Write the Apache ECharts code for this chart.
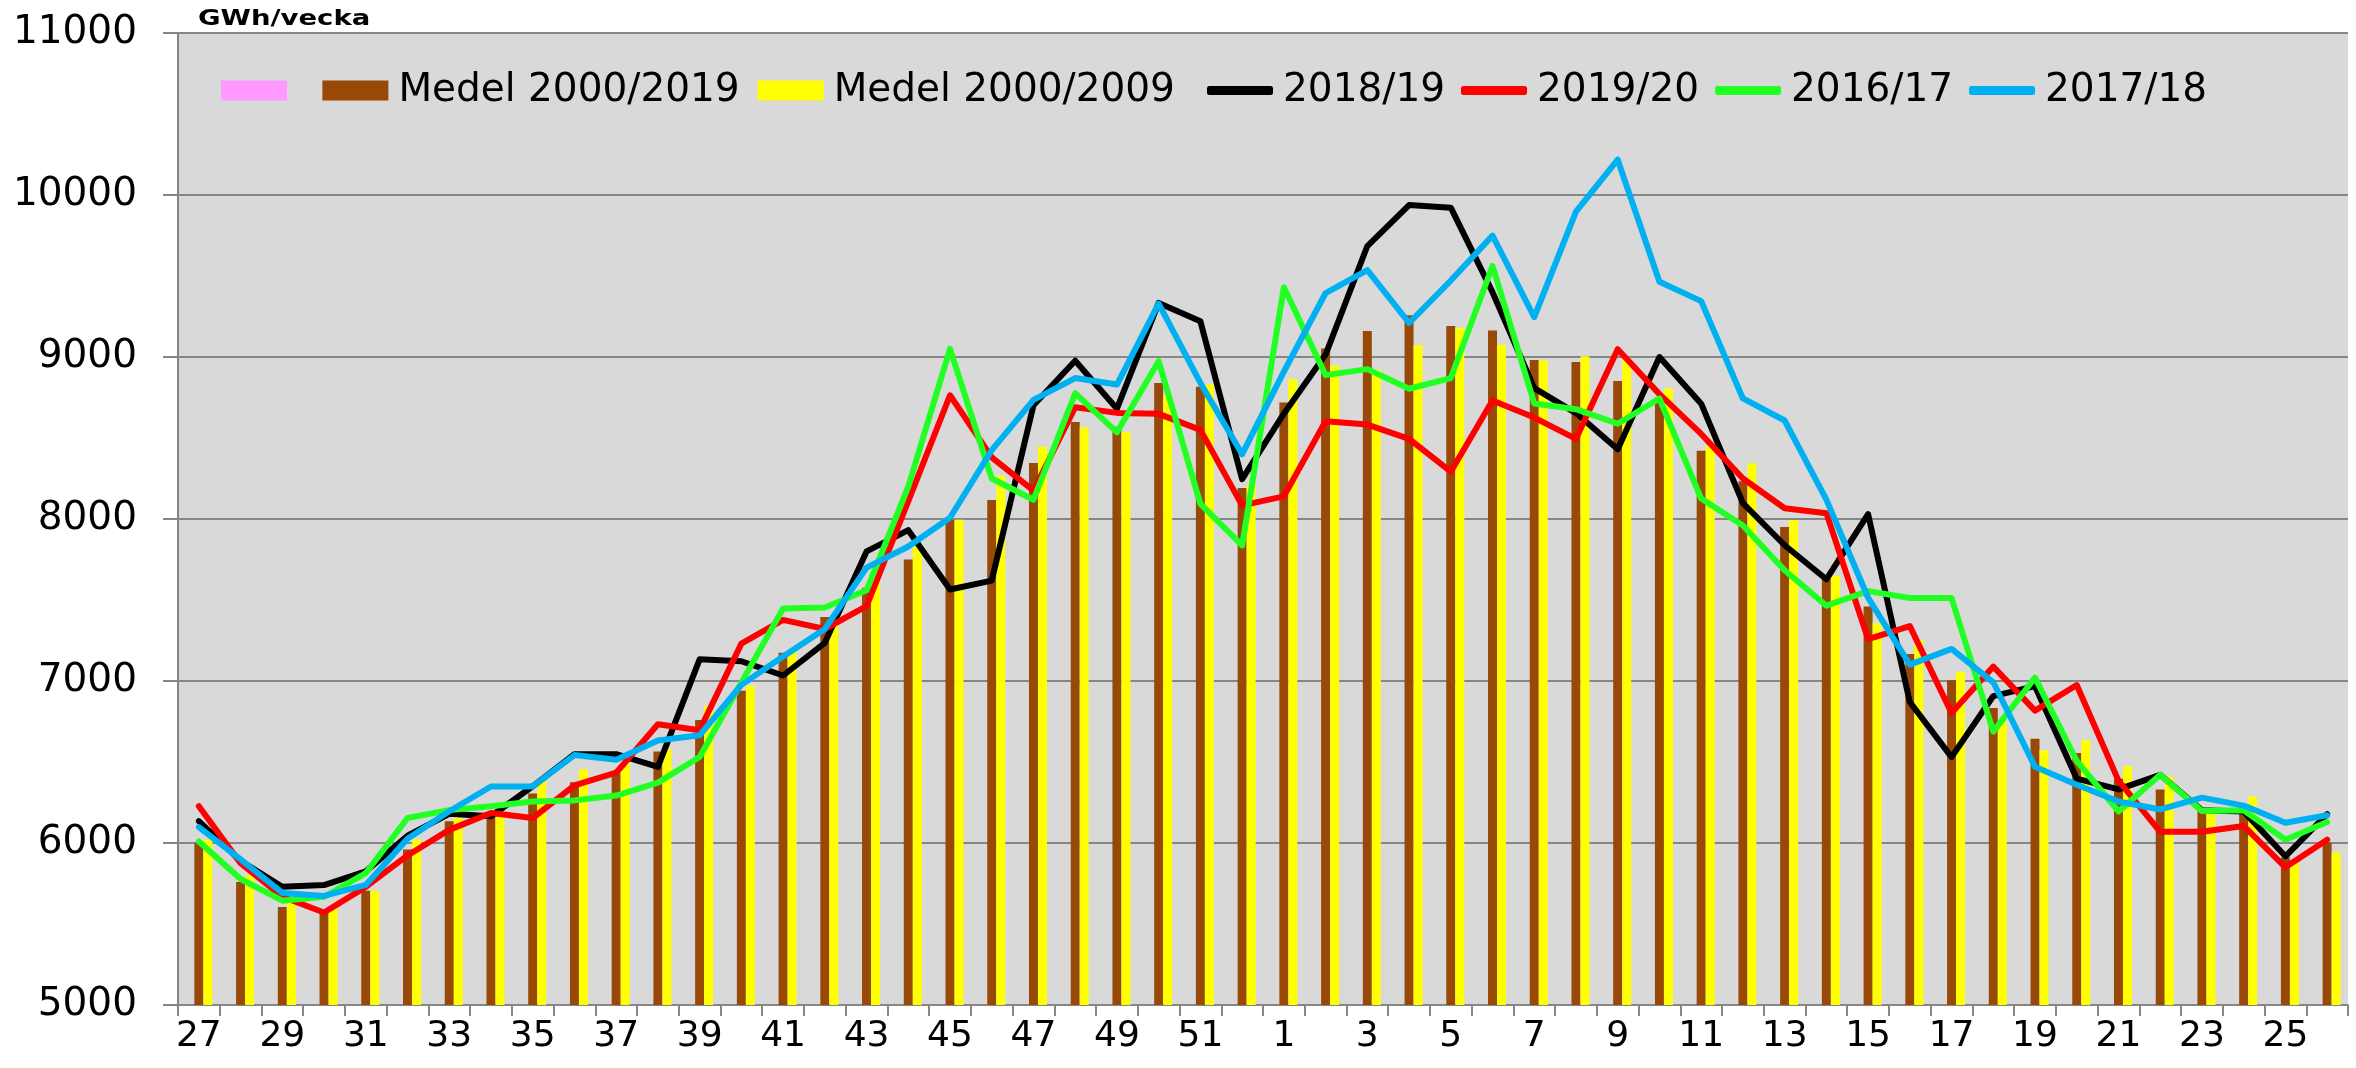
<!DOCTYPE html>
<html>
<head>
<meta charset="utf-8">
<script src="https://cdn.jsdelivr.net/npm/echarts@6/dist/echarts.min.js"></script>
<style>
  html, body { margin: 0; padding: 0; background: #fff; }
  #chart { width: 2356px; height: 1068px; }
</style>
</head>
<body>
<div id="chart"></div>
<script>
// veckor 27..52, 1..26
const weeks = [
  27, 28, 29, 30, 31, 32, 33, 34, 35, 36, 37, 38, 39, 40, 41, 42, 43, 44, 45, 46, 47, 48, 49, 50, 51, 52,
  1, 2, 3, 4, 5, 6, 7, 8, 9, 10, 11, 12, 13, 14, 15, 16, 17, 18, 19, 20, 21, 22, 23, 24, 25, 26
];

const medel2000_2019 = [
  6000, 5760, 5605, 5575, 5705, 5960, 6135, 6165, 6305, 6375, 6430, 6565, 6760, 6940, 7175, 7395, 7575, 7750, 7995, 8117, 8345, 8598, 8570, 8840, 8817, 8192,
  8719, 9052, 9160, 9258, 9192, 9163, 8981, 8969, 8852, 8750, 8421, 8233, 7950, 7635, 7460, 7167, 7004, 6834, 6644, 6555, 6397, 6331, 6195, 6202, 5911, 6003
];

const medel2000_2009 = [
  6020, 5800, 5630, 5595, 5705, 6020, 6155, 6190, 6385, 6455, 6495, 6580, 6845, 6970, 7185, 7355, 7625, 7828, 7996, 8268, 8446, 8567, 8535, 8761, 8831, 8210,
  8863, 8948, 8921, 9073, 9181, 9076, 8979, 9004, 8994, 8806, 8452, 8344, 7994, 7650, 7356, 7254, 7057, 6750, 6572, 6635, 6474, 6409, 6202, 6287, 5887, 5942
];

const y2018_19 = [
  6135, 5890, 5730, 5740, 5825, 6045, 6180, 6165, 6350, 6548, 6548, 6470, 7134, 7122, 7034, 7236, 7800, 7931, 7565, 7620, 8702, 8977, 8681, 9334, 9220, 8246,
  8650, 9015, 9685, 9938, 9922, 9400, 8808, 8654, 8431, 9000, 8712, 8098, 7838, 7628, 8030, 6870, 6530, 6907, 6968, 6397, 6331, 6421, 6202, 6195, 5918, 6178
];

const y2019_20 = [
  6227, 5875, 5668, 5571, 5729, 5923, 6081, 6185, 6154, 6356, 6434, 6733, 6696, 7231, 7377, 7321, 7462, 8110, 8764, 8380, 8175, 8690, 8655, 8649, 8550, 8084,
  8140, 8604, 8583, 8495, 8292, 8732, 8626, 8495, 9048, 8771, 8525, 8250, 8066, 8036, 7259, 7339, 6802, 7089, 6817, 6975, 6385, 6069, 6069, 6105, 5850, 6020
];

const y2016_17 = [
  6009, 5778, 5644, 5668, 5814, 6154, 6203, 6227, 6256, 6263, 6293, 6373, 6531, 6990, 7447, 7454, 7560, 8200, 9050, 8250, 8119, 8776, 8535, 8974, 8093, 7837,
  9431, 8888, 8925, 8804, 8870, 9562, 8713, 8678, 8588, 8744, 8126, 7960, 7684, 7465, 7555, 7512, 7512, 6688, 7021, 6506, 6195, 6421, 6197, 6202, 6020, 6129
];

const y2017_18 = [
  6098, 5899, 5692, 5673, 5741, 6026, 6196, 6349, 6349, 6543, 6514, 6633, 6665, 6976, 7151, 7321, 7700, 7830, 8008, 8425, 8735, 8870, 8830, 9329, 8840, 8400,
  8910, 9395, 9536, 9210, 9472, 9749, 9246, 9898, 10218, 9465, 9345, 8744, 8608, 8120, 7514, 7101, 7198, 6992, 6470, 6360, 6256, 6207, 6280, 6231, 6125, 6171
];

const emptySeries = weeks.map(() => null);

const font = "DejaVu Sans";
const gridGray = "#868686";

const chart = echarts.init(document.getElementById("chart"), null, { renderer: "canvas" });

const lineSeries = (name, data, color) => ({
  name: name,
  type: "line",
  data: data,
  symbol: "none",
  showSymbol: false,
  z: 5,
  lineStyle: { color: color, width: 6, join: "round", cap: "round" },
  itemStyle: { color: color },
});

const legendText = { fontFamily: font, fontSize: 39, color: "#000", padding: [0, 0, 0, 5] };

chart.setOption({
  animation: false,
  textStyle: { fontFamily: font },
  graphic: [
    {
      type: "text",
      left: 198,
      top: 8,
      scaleX: 1.25,
      style: { text: "GWh/vecka", font: "bold 22px " + font, fill: "#000" },
    },
  ],
  legend: [
    {
      // staplar
      left: 216,
      top: 66,
      itemGap: 18,
      itemWidth: 66,
      itemHeight: 20,
      icon: "rect",
      textStyle: legendText,
      data: [
        { name: " ", textStyle: { padding: 0 } },
        { name: "Medel 2000/2019" },
        { name: "Medel 2000/2009" },
      ],
    },
    {
      // linjer
      left: 1202,
      top: 66,
      itemGap: 16,
      itemWidth: 66,
      itemHeight: 9,
      icon: "roundRect",
      textStyle: legendText,
      data: ["2018/19", "2019/20", "2016/17", "2017/18"],
    },
  ],
  grid: {
    left: 178,
    right: 8,
    top: 33,
    bottom: 63,
    show: true,
    backgroundColor: "#D9D9D9",
    borderWidth: 0,
    containLabel: false,
  },
  xAxis: {
    type: "category",
    data: weeks,
    boundaryGap: true,
    axisLine: { show: true, lineStyle: { color: gridGray, width: 2 } },
    axisTick: { show: true, interval: 0, length: 11, lineStyle: { color: gridGray, width: 2 } },
    axisLabel: { interval: 1, color: "#000", fontSize: 36, fontFamily: font, margin: 14 },
    splitLine: { show: false },
  },
  yAxis: {
    type: "value",
    min: 5000,
    max: 11000,
    interval: 1000,
    axisLine: { show: true, lineStyle: { color: gridGray, width: 2 } },
    axisTick: { show: true, length: 15, lineStyle: { color: gridGray, width: 2 } },
    axisLabel: {
      color: "#000",
      fontSize: 39,
      fontFamily: font,
      margin: 41,
      formatter: (v) => String(v),
    },
    splitLine: { show: true, lineStyle: { color: gridGray, width: 2 } },
  },
  series: [
    {
      name: " ",
      type: "bar",
      data: emptySeries,
      barWidth: 9,
      barGap: "0%",
      itemStyle: { color: "#FF99FF" },
    },
    {
      name: "Medel 2000/2019",
      type: "bar",
      data: medel2000_2019,
      barWidth: 9,
      barGap: "0%",
      itemStyle: { color: "#984807" },
    },
    {
      name: "Medel 2000/2009",
      type: "bar",
      data: medel2000_2009,
      barWidth: 9,
      barGap: "0%",
      itemStyle: { color: "#FFFF00" },
    },
    lineSeries("2018/19", y2018_19, "#000000"),
    lineSeries("2019/20", y2019_20, "#FF0000"),
    lineSeries("2016/17", y2016_17, "#22FF22"),
    lineSeries("2017/18", y2017_18, "#00B0F0"),
  ],
});
</script>
</body>
</html>
